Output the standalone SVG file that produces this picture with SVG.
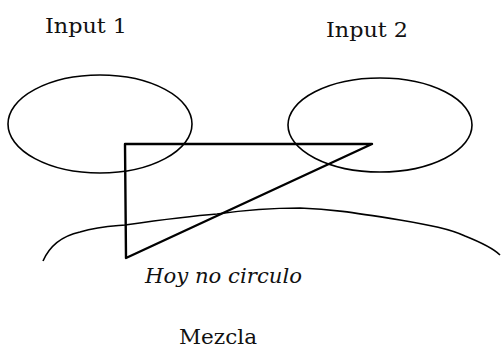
<svg xmlns="http://www.w3.org/2000/svg" width="501" height="350" viewBox="0 0 501 350">
<style>
.t{font-family:"DejaVu Serif","Liberation Serif",serif;font-size:21px;fill:#111}
.i{font-style:italic}
.s{fill:none;stroke:#000;stroke-width:1.6;stroke-linejoin:round}
.b{stroke-width:2.4}
</style>
<rect width="501" height="350" fill="#fff"/>
<g id="input1">
<ellipse class="s" cx="100" cy="124" rx="92" ry="49"/>
<text class="t" x="45" y="33" textLength="82" lengthAdjust="spacingAndGlyphs">Input 1</text>
</g>
<g id="input2">
<ellipse class="s" cx="380" cy="125" rx="92" ry="47"/>
<text class="t" x="326" y="37" textLength="82" lengthAdjust="spacingAndGlyphs">Input 2</text>
</g>
<g id="mezcla">
<path class="s" d="M43,261 C50,245 62,236 80,232 C100,226 115,226 125,225 C160,220 190,216 217,214 C245,210 270,208 300,208 C330,209 350,212 400,220 C430,225 450,229 465,236 C485,244 495,250 500,255"/>
<text class="t" x="179" y="344" font-size="20" textLength="78" lengthAdjust="spacingAndGlyphs">Mezcla</text>
</g>
<g id="triangle">
<path class="s b" d="M125,144 L372,144 L126,258 Z"/>
<text class="t i" x="145" y="283" textLength="157" lengthAdjust="spacingAndGlyphs">Hoy no circulo</text>
</g>
</svg>
